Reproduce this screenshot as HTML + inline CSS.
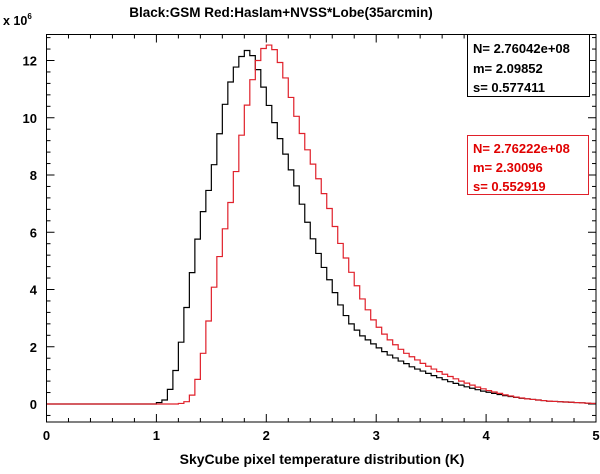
<!DOCTYPE html>
<html><head><meta charset="utf-8"><style>
html,body{margin:0;padding:0;background:#fff;}
svg text{font-family:"Liberation Sans",Arial,sans-serif;font-weight:bold;}
</style></head><body>
<svg id="chart" width="600" height="469" viewBox="0 0 600 469" xmlns="http://www.w3.org/2000/svg">
<text x="281" y="17" text-anchor="middle" font-size="13.5">Black:GSM  Red:Haslam+NVSS*Lobe(35arcmin)</text>
<text x="3" y="25" font-size="12.5">x 10<tspan dy="-6" font-size="8">6</tspan></text>
<g id="ticks"></g>
<g id="series"></g>
<rect x="46.5" y="34.5" width="549.5" height="387.5" fill="none" stroke="#000" stroke-width="1"/>
<text x="322" y="464" text-anchor="middle" font-size="14">SkyCube pixel temperature distribution (K)</text>
<g>
<rect x="467.5" y="34.5" width="122" height="62" fill="#fff" stroke="#000" stroke-width="1"/>
<text x="473" y="53" font-size="13" fill="#000">N= 2.76042e+08</text>
<text x="473" y="73" font-size="13" fill="#000">m= 2.09852</text>
<text x="473" y="92" font-size="13" fill="#000">s= 0.577411</text>
</g>
<g>
<rect x="467.5" y="135.5" width="121" height="59" fill="#fff" stroke="#e0202a" stroke-width="1"/>
<text x="473" y="153" font-size="13" fill="#e00000">N= 2.76222e+08</text>
<text x="473" y="172" font-size="13" fill="#e00000">m= 2.30096</text>
<text x="473" y="191" font-size="13" fill="#e00000">s= 0.552919</text>
</g>
</svg>
<script>
const binWidth = 0.05;
const xTickLabels = [0,1,2,3,4,5];
const yTickLabels = [0,2,4,6,8,10,12];
const gsmCounts = [0,0,0,0,0,0,0,0,0,0,0,0,0,0,0,0,0,0,0,0,
 0.05,0.14,0.51,1.17,2.16,3.37,4.59,5.76,6.72,7.46,8.36,9.44,10.47,11.25,11.77,12.14,12.35,12.17,11.68,11.07,10.43,9.83,9.27,8.73,8.18,
 7.62,6.98,6.35,5.77,5.26,4.77,4.34,3.89,3.46,3.09,2.80,2.58,2.38,2.24,2.10,1.96,1.83,1.71,1.61,1.50,1.41,1.30,1.22,1.15,1.07,0.99,
 0.92,0.85,0.78,0.72,0.66,0.60,0.55,0.50,0.45,0.41,0.37,0.33,0.29,0.26,0.23,0.20,0.18,0.16,0.14,0.12,0.10,0.09,0.08,0.07,0.06,0.05,0.04,0.03,0.02];
const haslamCounts = [0,0,0,0,0,0,0,0,0,0,0,0,0,0,0,0,0,0,0,0,0,0,0,0,
 0.02,
 0.08,0.31,0.86,1.77,2.9,4.08,5.15,6.12,7.04,8.12,9.39,10.44,11.33,12.0,12.42,12.54,12.38,11.93,11.39,10.71,
 10.05,9.45,8.88,
 8.38,7.87,7.35,6.83,6.2,5.61,5.10,4.60,4.13,3.67,3.29,2.94,2.68,2.44,2.24,2.07,1.91,1.77,1.65,1.54,1.42,1.32,1.22,
 1.13,1.04,0.96,0.88,0.80,0.73,0.66,0.59,0.53,0.47,0.42,0.37,0.32,0.28,0.24,0.21,0.18,0.16,0.14,0.12,0.10,0.09,0.08,0.07,0.06,0.05,0.04,0.03,0.02];

const NS='http://www.w3.org/2000/svg';
const X0=46.5, X1=596, Yb=422, Yt=34.5;
function xs(v){return X0+(v-0)/5*(X1-X0);}
function ys(v){return 404-(v/12)*(404-60.5);}
const ticks=document.getElementById('ticks');
function line(x1,y1,x2,y2,name){
  const l=document.createElementNS(NS,'line');
  l.setAttribute('x1',x1);l.setAttribute('y1',y1);l.setAttribute('x2',x2);l.setAttribute('y2',y2);
  l.setAttribute('stroke','#000');l.setAttribute('stroke-width','1');
  
  
  ticks.appendChild(l);
}
function txt(x,y,s,anchor,name){
  const t=document.createElementNS(NS,'text');
  t.setAttribute('x',x);t.setAttribute('y',y);t.setAttribute('text-anchor',anchor);t.setAttribute('font-size','13');
  t.textContent=s;
  
  
  ticks.appendChild(t);
}
for(let i=0;i<=25;i++){
  const v=i*0.2, x=xs(v), major=(i%5===0), L=major?8:4;
  line(x,Yb,x,Yb-L,'x-tick');
  line(x,Yt,x,Yt+L,'x-tick-top');
}
xTickLabels.forEach(v=>txt(xs(v),440,String(v),'middle','x-tick-label'));
for(let v=-0.4; v<=13.2; v+=0.4){
  const y=ys(v); if(y>Yb||y<Yt) continue;
  const major=Math.abs(v/2-Math.round(v/2))<1e-6, L=major?8:4;
  line(X0,y,X0+L,y,'y-tick');
  line(X1,y,X1-L,y,'y-tick-right');
}
yTickLabels.forEach(v=>txt(37,ys(v)+5,String(v),'end','y-tick-label'));
function hist(arr,color,name){
  let d='M'+xs(0)+','+ys(arr[0]);
  arr.forEach((v,i)=>{
    const y=ys(v);
    d+=' L'+xs(i*binWidth)+','+y+' L'+xs((i+1)*binWidth)+','+y;
  });
  const p=document.createElementNS(NS,'path');
  p.setAttribute('d',d);p.setAttribute('fill','none');p.setAttribute('stroke',color);p.setAttribute('stroke-width','1.2');
  
  
  document.getElementById('series').appendChild(p);
}
hist(gsmCounts,'#000','gsm-histogram');
hist(haslamCounts,'#e0202a','haslam-nvss-histogram');
</script>
</body></html>
